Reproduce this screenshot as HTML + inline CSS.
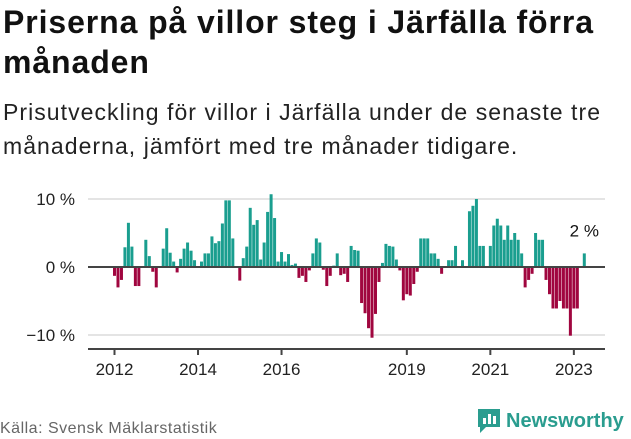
<!DOCTYPE html>
<html><head><meta charset="utf-8"><style>
body{margin:0;width:631px;height:439px;background:#fff;font-family:"Liberation Sans","DejaVu Sans",sans-serif;overflow:hidden;position:relative}
h1{position:absolute;left:3px;top:2px;margin:0;font-size:32px;line-height:40px;font-weight:bold;color:#111;width:626px;letter-spacing:0.9px}
.sub{position:absolute;left:3px;top:95px;margin:0;font-size:23px;line-height:34px;color:#222;width:626px;letter-spacing:1.05px}
.src{position:absolute;left:0;top:420px;font-size:16px;color:#666;letter-spacing:0.5px}
.logo{position:absolute;left:476px;top:407px;display:flex;align-items:center;font-weight:bold;font-size:20px;color:#2a9d8f}
</style></head><body>
<h1>Priserna på villor steg i Järfälla förra månaden</h1>
<p class="sub">Prisutveckling för villor i Järfälla under de senaste tre månaderna, jämfört med tre månader tidigare.</p>
<svg id="chart" width="631" height="439" style="position:absolute;left:0;top:0"></svg>
<div class="src">Källa: Svensk Mäklarstatistik</div>
<div class="logo"><svg width="26" height="28" viewBox="0 0 26 28"><path d="M2 2h22v18H10l-6 6v-6H2z" fill="#2a9d8f"/><rect x="7" y="11" width="3" height="6" fill="#fff"/><rect x="12" y="7" width="3" height="10" fill="#fff"/><rect x="17" y="9" width="3" height="8" fill="#fff"/></svg><span style="margin-left:4px">Newsworthy</span></div>
<script>
const values=[-1.3,-3,-1.9,2.9,6.5,3,-2.8,-2.8,0,4,1.6,-0.7,-3,0,2.7,5.7,2.1,0.8,-0.8,1.2,2.7,3.6,2.4,1.0,0,0.8,2,2,4.5,3.5,3.8,6.4,9.8,9.8,4.2,0.1,-2,1.3,3,8.7,6.2,6.9,1.1,
3.6,8.1,10.7,7.2,0.8,2.2,0.8,1.9,0.3,0.5,-1.6,-1.3,-2.2,-0.5,2,4.2,3.6,-0.4,-2.8,-1.3,0.2,2.0,-1.2,-1.0,-2.2,3.1,2.5,2.4,-5.3,-6.8,-9,-10.4,-6.9,-2.2,0.6,3.4,3.1,3.0,1.1,-0.5,-4.9,-4,-4.2,-2.5,-0.7,4.2,4.2,4.2,2.0,2.0,1.2,
-1,0,1,1,3.1,0,1,0,8.2,9,10,3.1,3.1,0,3.1,6.1,7.1,6.1,4,6.1,4,5,4,2,-3,-1.9,-1,5,4,4,-1.9,-4,-6.1,-6.1,-5,-6.1,-6.1,-10.1,-6.1,-6.1,0,2.0];
const yTicks=[10,0,-10];
const yTickLabels=["10 %","0 %","−10 %"];
const xTickYears=[2012,2014,2016,2019,2021,2023];
const startYear=2012;
const lastLabel="2 %";
const svg=document.getElementById('chart');
const NS='http://www.w3.org/2000/svg';
const x=m=>113+m*3.48;
const y=v=>267-v*6.8;
function mk(t,a){const e=document.createElementNS(NS,t);for(const k in a)e.setAttribute(k,a[k]);svg.appendChild(e);return e;}
yTicks.forEach((t,i)=>{
 if(t!==0){const g=mk('line',{x1:88,x2:605,y1:y(t),y2:y(t),stroke:'#e4e4e4','stroke-width':2});
 
 }
 const l=mk('text',{x:75,y:y(t)+6,'text-anchor':'end','font-size':17,fill:'#222','font-family':'Liberation Sans, sans-serif'});
 l.textContent=yTickLabels[i];
 
 
});
values.forEach((v,i)=>{
 const r=mk('rect',{x:x(i),width:3,y:v>=0?y(v):y(0),height:Math.abs(y(v)-y(0)),fill:v>=0?'#1a9e8f':'#a0063f'});
 
 
});
const z=mk('line',{x1:88,x2:605,y1:y(0),y2:y(0),stroke:'#444','stroke-width':2});


const ax=mk('line',{x1:88,x2:605,y1:349,y2:349,stroke:'#444','stroke-width':2});


xTickYears.forEach(yr=>{
 const m=(yr-startYear)*12;const px=x(m)+1.5;
 const t=mk('line',{x1:px,x2:px,y1:349,y2:355,stroke:'#444','stroke-width':2});
 
 
 const l=mk('text',{x:px,y:375,'text-anchor':'middle','font-size':17,fill:'#222','font-family':'Liberation Sans, sans-serif'});
 l.textContent=yr;
 
 
});
const li=values.length-1;
const lab=mk('text',{x:x(li)+1.5,y:y(values[li])-17,'text-anchor':'middle','font-size':17,fill:'#111','font-family':'Liberation Sans, sans-serif'});
lab.textContent=lastLabel;


</script>
</body></html>
